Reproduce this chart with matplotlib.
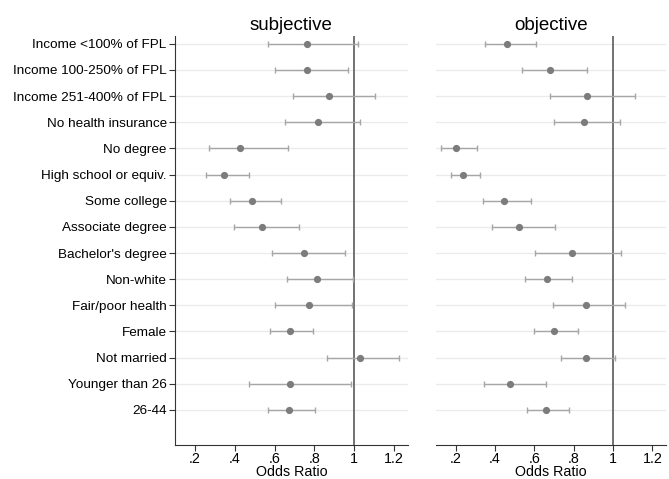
import matplotlib
matplotlib.use("Agg")
import matplotlib.pyplot as plt

plt.rcParams['font.family'] = ['Liberation Sans', 'DejaVu Sans']

# Labels (top to bottom)
labels = ["Income <100% of FPL", "Income 100-250% of FPL", "Income 251-400% of FPL",
          "No health insurance", "No degree", "High school or equiv.", "Some college",
          "Associate degree", "Bachelor's degree", "Non-white", "Fair/poor health",
          "Female", "Not married", "Younger than 26", "26-44"]

# subjective odds ratios and 95% CI
subj_or = [0.762, 0.762, 0.876, 0.820, 0.426, 0.348, 0.488, 0.537,
           0.747, 0.814, 0.774, 0.678, 1.030, 0.680, 0.674]
subj_lo = [0.569, 0.601, 0.693, 0.653, 0.272, 0.255, 0.376, 0.398,
           0.586, 0.664, 0.604, 0.576, 0.866, 0.470, 0.566]
subj_hi = [1.018, 0.968, 1.106, 1.032, 0.666, 0.470, 0.633, 0.723,
           0.955, 0.997, 0.987, 0.795, 1.225, 0.985, 0.802]

# objective odds ratios and 95% CI
obj_or = [0.462, 0.682, 0.868, 0.854, 0.200, 0.239, 0.444, 0.523,
          0.792, 0.662, 0.861, 0.701, 0.861, 0.475, 0.660]
obj_lo = [0.349, 0.538, 0.679, 0.701, 0.128, 0.176, 0.339, 0.385,
          0.605, 0.552, 0.696, 0.600, 0.734, 0.342, 0.562]
obj_hi = [0.610, 0.868, 1.110, 1.038, 0.310, 0.322, 0.581, 0.706,
          1.041, 0.792, 1.063, 0.820, 1.008, 0.658, 0.777]

xticks = [0.2, 0.4, 0.6, 0.8, 1.0, 1.2]
xticklabels = [".2", ".4", ".6", ".8", "1", "1.2"]

fig = plt.figure(figsize=(6.69, 4.79), dpi=100)
ax1 = fig.add_axes([0.2616, 0.071, 0.348, 0.854])
ax2 = fig.add_axes([0.6517, 0.071, 0.344, 0.854])

ypos = list(range(1, len(labels) + 1))

panels = [(ax1, "subjective", subj_or, subj_lo, subj_hi),
          (ax2, "objective", obj_or, obj_lo, obj_hi)]

for ax, title, est, lo, hi in panels:
    for y in ypos:
        ax.axhline(y, color="#ebebeb", lw=1.0, zorder=0)
    ax.axvline(1, color="#5a5a5a", lw=1.2, zorder=1)
    xerr = [[e - l for e, l in zip(est, lo)], [h - e for e, h in zip(est, hi)]]
    ax.errorbar(est, ypos, xerr=xerr, fmt="none", ecolor="#a6a6a6",
                elinewidth=1.0, capsize=2.2, capthick=1.0, zorder=2)
    ax.scatter(est, ypos, s=27, color="#7c7c7c", zorder=3, linewidths=0)
    ax.set_xlim(0.1, 1.27)
    ax.set_ylim(16.34, 0.7)
    ax.set_xticks(xticks)
    ax.set_xticklabels(xticklabels, fontsize=10.3)
    ax.set_xlabel("Odds Ratio", fontsize=10.3, labelpad=-1)
    ax.set_title(title, fontsize=13.5, pad=4)
    ax.spines['top'].set_visible(False)
    ax.spines['right'].set_visible(False)
    ax.spines['bottom'].set_color("#333333")
    ax.spines['left'].set_color("#333333")
    ax.tick_params(axis="x", length=4, color="#333333", pad=1)

ax1.set_yticks(ypos)
ax1.set_yticklabels(labels, fontsize=9.7)
ax1.tick_params(axis="y", length=4, color="#333333", pad=2)

ax2.spines['left'].set_visible(False)
ax2.set_yticks([])

fig.savefig("out.png", dpi=100)
